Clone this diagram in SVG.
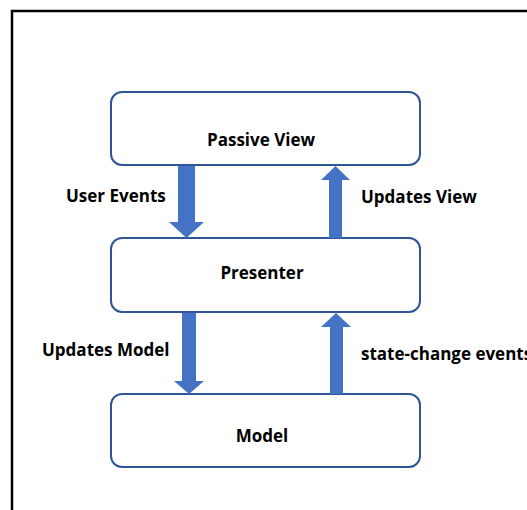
<svg xmlns="http://www.w3.org/2000/svg" width="527" height="510" viewBox="0 0 527 510">
<style>
.box{fill:#fff;stroke:#2F5597;stroke-width:2}
.arr{fill:#4472C4}
text{font-family:"Open Sans","Liberation Sans",sans-serif;font-weight:bold;font-size:17px;fill:#000}
.c{text-anchor:middle}
</style>
<rect x="0" y="0" width="527" height="510" fill="#fff"/>
<path d="M12 510 V11 H527" fill="none" stroke="#000" stroke-width="2.5"/>
<g id="passive-view">
<rect class="box" x="111" y="92" width="309" height="73" rx="11"/>
<text class="c" x="261" y="146">Passive View</text>
</g>
<g id="presenter">
<rect class="box" x="111" y="238" width="309" height="74" rx="11"/>
<text class="c" x="262" y="279">Presenter</text>
</g>
<g id="model">
<rect class="box" x="111" y="394" width="309" height="73" rx="11"/>
<text class="c" x="262" y="442">Model</text>
</g>
<g id="connectors">
<polygon class="arr" points="178,166 195,166 195,222 204,222 186.5,238 169,222 178,222"/>
<polygon class="arr" points="329,238 342,238 342,180 350,180 335.5,166 321,180 329,180"/>
<polygon class="arr" points="182,313 196,313 196,381 204,381 189,394 174,381 182,381"/>
<polygon class="arr" points="330,394 343,394 343,327 351,327 336,313 321,327 330,327"/>
<text x="66" y="202">User Events</text>
<text x="361" y="203">Updates View</text>
<text x="42" y="356">Updates Model</text>
<text x="361" y="360">state-change events</text>
</g>
</svg>
